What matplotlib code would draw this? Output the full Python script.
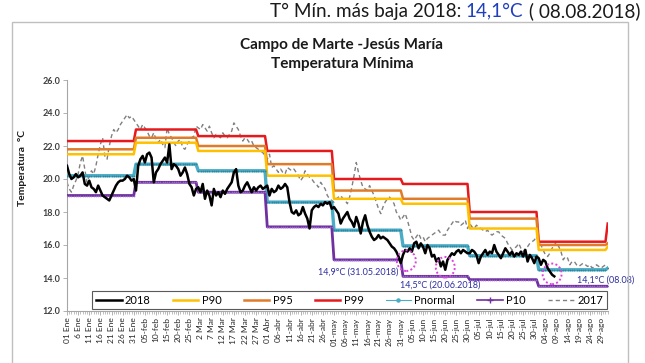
import numpy as np
import matplotlib
matplotlib.use("Agg")
import matplotlib.pyplot as plt
from matplotlib.lines import Line2D
from matplotlib.patches import Ellipse, Rectangle

plt.rcParams['font.family'] = ['Lato', 'DejaVu Sans']

# ---------------- data ----------------
month_lengths = [31, 28, 31, 30, 31, 30, 31, 31, 1]   # Jan..Aug + 1 Sep
p99 = [22.3, 23.0, 22.6, 21.7, 20.0, 19.7, 18.0, 16.2, 17.3]
p95 = [21.8, 22.5, 22.0, 20.9, 19.3, 18.8, 17.6, 16.0, 16.1]
p90 = [21.5, 22.2, 21.7, 20.2, 18.8, 18.5, 17.0, 15.7, 15.9]
pnormal = [20.2, 20.9, 20.5, 18.6, 16.9, 15.95, 15.35, 14.5, 14.6]
p10 = [19.0, 19.8, 19.2, 17.1, 15.1, 14.1, 13.9, 13.5, 13.5]

t2018 = [
    # Jan
    20.8, 20.3, 20.0, 20.1, 20.3, 20.1, 20.2, 20.4, 19.7, 19.6, 19.9, 19.5, 19.4, 19.2, 19.6, 19.3,
    19.0, 18.9, 18.8, 18.7, 19.0, 19.3, 19.6, 19.8, 19.9, 19.9, 20.0, 20.2, 20.1, 19.9, 20.0,
    # Feb
    19.3, 20.8, 21.2, 21.4, 21.0, 21.5, 21.6, 21.3, 19.8, 20.4, 20.6, 20.9, 21.1, 21.3, 21.0, 22.1,
    20.6, 20.9, 20.8, 20.6, 20.2, 20.4, 20.7, 20.3, 19.7, 19.5, 19.0, 19.4,
    # Mar
    19.5, 19.2, 19.7, 18.8, 19.3, 19.0, 18.4, 19.4, 19.0, 19.2, 18.9, 19.3, 19.1, 19.4, 19.6, 19.8,
    20.4, 20.6, 19.6, 19.2, 19.3, 19.6, 19.8, 19.5, 19.2, 19.5, 19.3, 19.5, 19.6, 19.4, 19.5,
    # Apr
    19.6, 19.0, 19.4, 19.2, 19.3, 19.6, 19.4, 19.5, 19.7, 19.5, 18.6, 18.0, 17.9, 18.1, 17.8, 17.9,
    18.3, 17.9, 17.6, 17.0, 18.1, 18.3, 18.4, 18.3, 18.5, 18.4, 18.6, 18.5, 18.6, 18.2,
    # May
    18.3, 18.1, 17.9, 17.3, 17.6, 17.8, 18.0, 17.6, 17.4, 17.1, 17.7, 17.3, 16.7, 17.4, 17.8, 17.2,
    16.8, 16.5, 16.3, 16.4, 16.6, 16.4, 16.5, 16.4, 16.3, 16.1, 15.9, 15.8, 15.6, 15.3, 14.9,
    # Jun
    15.4, 15.7, 15.6, 15.8, 15.6, 16.1, 16.2, 15.8, 16.1, 15.9, 15.5, 16.0, 15.8, 15.3, 15.4, 15.0,
    15.2, 14.7, 15.0, 14.5, 15.1, 15.3, 15.5, 15.4, 15.6, 15.7, 15.5, 15.7, 15.6, 15.5,
    # Jul
    15.5, 15.7, 15.6, 15.4, 14.9, 15.3, 15.5, 15.7, 15.4, 15.6, 15.5, 16.0, 15.6, 15.4, 15.2, 15.5,
    15.8, 15.6, 15.4, 15.6, 15.3, 15.5, 15.4, 15.6, 15.3, 15.7, 15.0, 15.4, 15.2, 14.9, 15.3,
    # Aug 1-8
    15.2, 14.8, 15.1, 15.0, 14.6, 14.4, 14.2, 14.1,
]

t2017 = [
    # Jan
    19.8, 19.4, 19.2, 19.6, 19.9, 20.3, 21.0, 21.4, 20.6, 19.8, 20.2, 20.5, 20.3, 20.8, 21.5, 22.1,
    22.5, 21.4, 21.2, 22.0, 22.6, 23.0, 22.8, 23.0, 23.3, 23.5, 23.7, 23.9, 23.7, 23.8, 23.6,
    # Feb
    23.4, 23.2, 23.0, 23.3, 23.1, 22.9, 22.6, 22.5, 22.8, 22.4, 22.2, 22.4, 22.1, 21.9, 23.1, 22.7,
    22.5, 22.2, 22.0, 22.3, 22.4, 21.9, 21.8, 22.1, 22.3, 22.5, 22.6, 23.2,
    # Mar
    23.1, 23.0, 23.3, 23.1, 22.9, 23.2, 22.8, 22.5, 22.7, 22.6, 22.5, 22.8, 22.6, 22.5, 22.7, 22.9,
    23.4, 23.2, 23.0, 22.6, 22.3, 22.5, 22.4, 22.2, 22.3, 22.0, 21.9, 21.8, 21.7, 21.6, 21.4,
    # Apr
    21.2, 21.5, 20.7, 20.8, 20.6, 20.4, 20.6, 20.4, 20.3, 20.7, 20.6, 20.5, 20.6, 20.4, 20.2, 19.9,
    20.1, 20.5, 20.3, 20.1, 20.0, 19.8, 19.7, 19.5, 19.8, 19.6, 19.4, 19.0, 18.8, 18.7,
    # May
    18.6, 18.8, 18.9, 19.0, 18.8, 18.7, 18.5, 18.9, 19.5, 20.2, 21.0, 20.4, 19.9, 19.5, 19.4, 19.3,
    19.6, 19.3, 19.0, 18.6, 18.2, 17.9, 18.3, 18.6, 18.8, 18.9, 18.7, 18.5, 18.0, 17.8, 17.5,
    # Jun
    17.7, 17.9, 17.5, 17.0, 16.5, 16.3, 16.5, 16.7, 16.4, 16.5, 16.2, 16.4, 16.5, 16.6, 16.7, 16.8,
    16.9, 16.7, 16.6, 16.6, 16.9, 17.1, 17.3, 17.5, 17.4, 17.4, 17.2, 17.3, 17.5, 17.0,
    # Jul
    17.3, 17.1, 17.0, 17.2, 17.1, 17.0, 16.9, 16.8, 16.9, 16.7, 16.6, 16.7, 16.8, 16.8, 16.6, 16.5,
    16.4, 16.1, 15.9, 15.7, 15.8, 15.9, 16.1, 15.8, 15.6, 15.8, 15.9, 16.1, 16.2, 16.3, 16.5,
    # Aug
    16.2, 16.0, 15.7, 15.4, 15.3, 15.5, 15.8, 16.0, 16.2, 15.9, 15.6, 15.1, 15.3, 15.2, 14.8, 15.0,
    15.0, 14.8, 14.7, 14.8, 14.9, 14.8, 14.7, 14.8, 14.6, 14.7, 14.8, 14.7, 14.6, 14.7, 14.8,
    # Sep 1
    14.8,
]

tick_labels = ["01 Ene", "6 Ene", "11 Ene", "16 Ene", "21 Ene", "26 Ene", "31 Ene",
               "05-feb", "10-feb", "15-feb", "20-feb", "25-feb", "2 Mar", "7 Mar",
               "12 Mar", "17 Mar", "22 Mar", "27 Mar", "01 Abr", "06-abr", "11-abr",
               "16-abr", "21-abr", "26-abr", "01-may", "06-may", "11-may", "16-may",
               "21-may", "26-may", "31-may", "05-jun", "10-jun", "15-jun", "20-jun",
               "25-jun", "30-jun", "05-jul", "10-jul", "15-jul", "20-jul", "25-jul",
               "30-jul", "04-ago", "09-ago", "14-ago", "19-ago", "24-ago", "29-ago"]

series_labels = ["2018", "P90", "P95", "P99", "Pnormal", "P10", "2017"]
ann_days = [150, 170, 219]
ann_texts = ["14,9°C (31.05.2018)", "14,5°C (20.06.2018)", "14,1°C (08.08)"]

# ---------------- figure ----------------
W, H = 645, 363
fig = plt.figure(figsize=(W / 100, H / 100), dpi=100)
fig.patch.set_facecolor('white')

fig.patches.append(Rectangle((12 / W, -0.02), (628 - 12) / W, (H - 22) / H + 0.02,
                             transform=fig.transFigure, fill=False, ec='#BFBFBF', lw=1.0))

ax = fig.add_axes([67 / W, (H - 311) / H, (607.7 - 67) / W, (311 - 80) / H])

n_days = sum(month_lengths)
days = np.arange(n_days)
c_p99, c_p95, c_p90 = '#E8191C', '#E07B2A', '#FFC000'
c_pn, c_p10 = '#4BACC6', '#7030A0'

ax.plot(days, np.repeat(p99, month_lengths), color=c_p99, lw=1.8, zorder=3)
ax.plot(days, np.repeat(p95, month_lengths), color=c_p95, lw=1.8, zorder=3)
ax.plot(days, np.repeat(p90, month_lengths), color=c_p90, lw=1.8, zorder=3)
ax.plot(days, np.repeat(pnormal, month_lengths), color=c_pn, lw=2.4, zorder=3,
        marker='o', ms=1.3, mfc='#31859C', mec='#31859C', mew=0)
ax.plot(days, np.repeat(p10, month_lengths), color=c_p10, lw=2.0, zorder=3,
        marker='o', ms=1.2, mfc='#9966CC', mec='#9966CC', mew=0)
ax.plot(np.arange(len(t2017)), t2017, color='#808080', lw=1.0,
        linestyle=(0, (3, 2.2)), zorder=2)
ax.plot(np.arange(len(t2018)), t2018, color='black', lw=1.8, zorder=4)

ax.set_xlim(0, n_days - 1)
ax.set_ylim(12, 26)
ax.set_yticks(np.arange(12, 26.1, 2))
ax.set_yticklabels([f"{v:.1f}" for v in np.arange(12, 26.1, 2)],
                   fontsize=6.5, fontweight='bold', color='#404040')
ax.set_xticks(np.arange(0, 5 * len(tick_labels), 5))
ax.set_xticklabels(tick_labels, rotation=90, fontsize=6, color='#262626')
ax.set_xticks(days, minor=True)
ax.tick_params(axis='x', which='major', length=3, width=0.6, color='#A6A6A6', pad=1.5)
ax.tick_params(axis='x', which='minor', length=2.5, width=0.5, color='#A6A6A6')
ax.tick_params(axis='y', which='major', length=3, width=0.6, color='#A6A6A6', pad=2)
for s in ['top', 'right']:
    ax.spines[s].set_visible(False)
for s in ['left', 'bottom']:
    ax.spines[s].set_color('#A6A6A6')
    ax.spines[s].set_linewidth(0.8)

# legend
handles = [
    Line2D([], [], color='black', lw=1.8),
    Line2D([], [], color=c_p90, lw=1.8),
    Line2D([], [], color=c_p95, lw=1.8),
    Line2D([], [], color=c_p99, lw=1.8),
    Line2D([], [], color=c_pn, lw=0.8, marker='o', ms=2.2),
    Line2D([], [], color=c_p10, lw=1.2, marker='+', ms=4),
    Line2D([], [], color='#808080', lw=1.0, linestyle=(0, (3, 2.2))),
]
leg = ax.legend(handles, series_labels, ncol=7, loc='center',
                bbox_to_anchor=(349.5 / W, (H - 300) / H), bbox_transform=fig.transFigure,
                fontsize=8, handlelength=2.3, columnspacing=2.0, handletextpad=0.3,
                frameon=True, fancybox=False, edgecolor='#595959', borderpad=0.35,
                framealpha=1)
leg.get_frame().set_linewidth(0.8)
leg.set_zorder(6)

# annotations
ann_color = '#2E2EA0'
ax.text(ann_days[0] - 1, t2018[ann_days[0]] - 0.55, ann_texts[0], ha='right', va='center',
        fontsize=6.5, color=ann_color, zorder=7)
ax.text(ann_days[0] - 0.5, t2018[ann_days[1]] - 0.92, ann_texts[1], ha='left', va='center',
        fontsize=6.5, color=ann_color, zorder=7)
ax.text(ann_days[2] + 10, t2018[ann_days[2]] - 0.22, ann_texts[2], ha='left', va='center',
        fontsize=6.5, color=ann_color, zorder=7, clip_on=False)
for d, dx in zip(ann_days, [2.5, 0, -1]):
    ax.add_patch(Ellipse((d + dx, t2018[d] + 0.15), 8.5, 1.25, fill=False,
                         ec='#E040E0', lw=1.4, linestyle=(0, (1, 1.2)), zorder=8))

# titles
fig.text(342 / W, (H - 45) / H, "Campo de Marte -Jesús María", ha='center', va='center',
         fontsize=11, fontweight='bold', color='#1A1A1A')
fig.text(342 / W, (H - 64) / H, "Temperatura Mínima", ha='center', va='center',
         fontsize=11, fontweight='bold', color='#1A1A1A')
fig.text(23 / W, (H - 168) / H, "Temperatura  °C", rotation=90, ha='center', va='center',
         fontsize=7.5, fontweight='bold', color='#1A1A1A')

# top line with coloured value
fig.canvas.draw()
r = fig.canvas.get_renderer()
parts = [("T° Mín. más baja 2018: ", '#1A1A1A'), ("14,1°C", '#1F3FBF'),
         (" ( 08.08.2018)", '#1A1A1A')]
x = 268
objs = []
for s, c in parts:
    t = fig.text(x / W, (H - 11) / H, s, ha='left', va='center', fontsize=13.6, color=c)
    bb = t.get_window_extent(r)
    x = bb.x1
    objs.append(t)
shift = 640 - x
for t in objs:
    px, py = t.get_position()
    t.set_position((px + shift / W, py))

fig.savefig("out.png", dpi=100)
